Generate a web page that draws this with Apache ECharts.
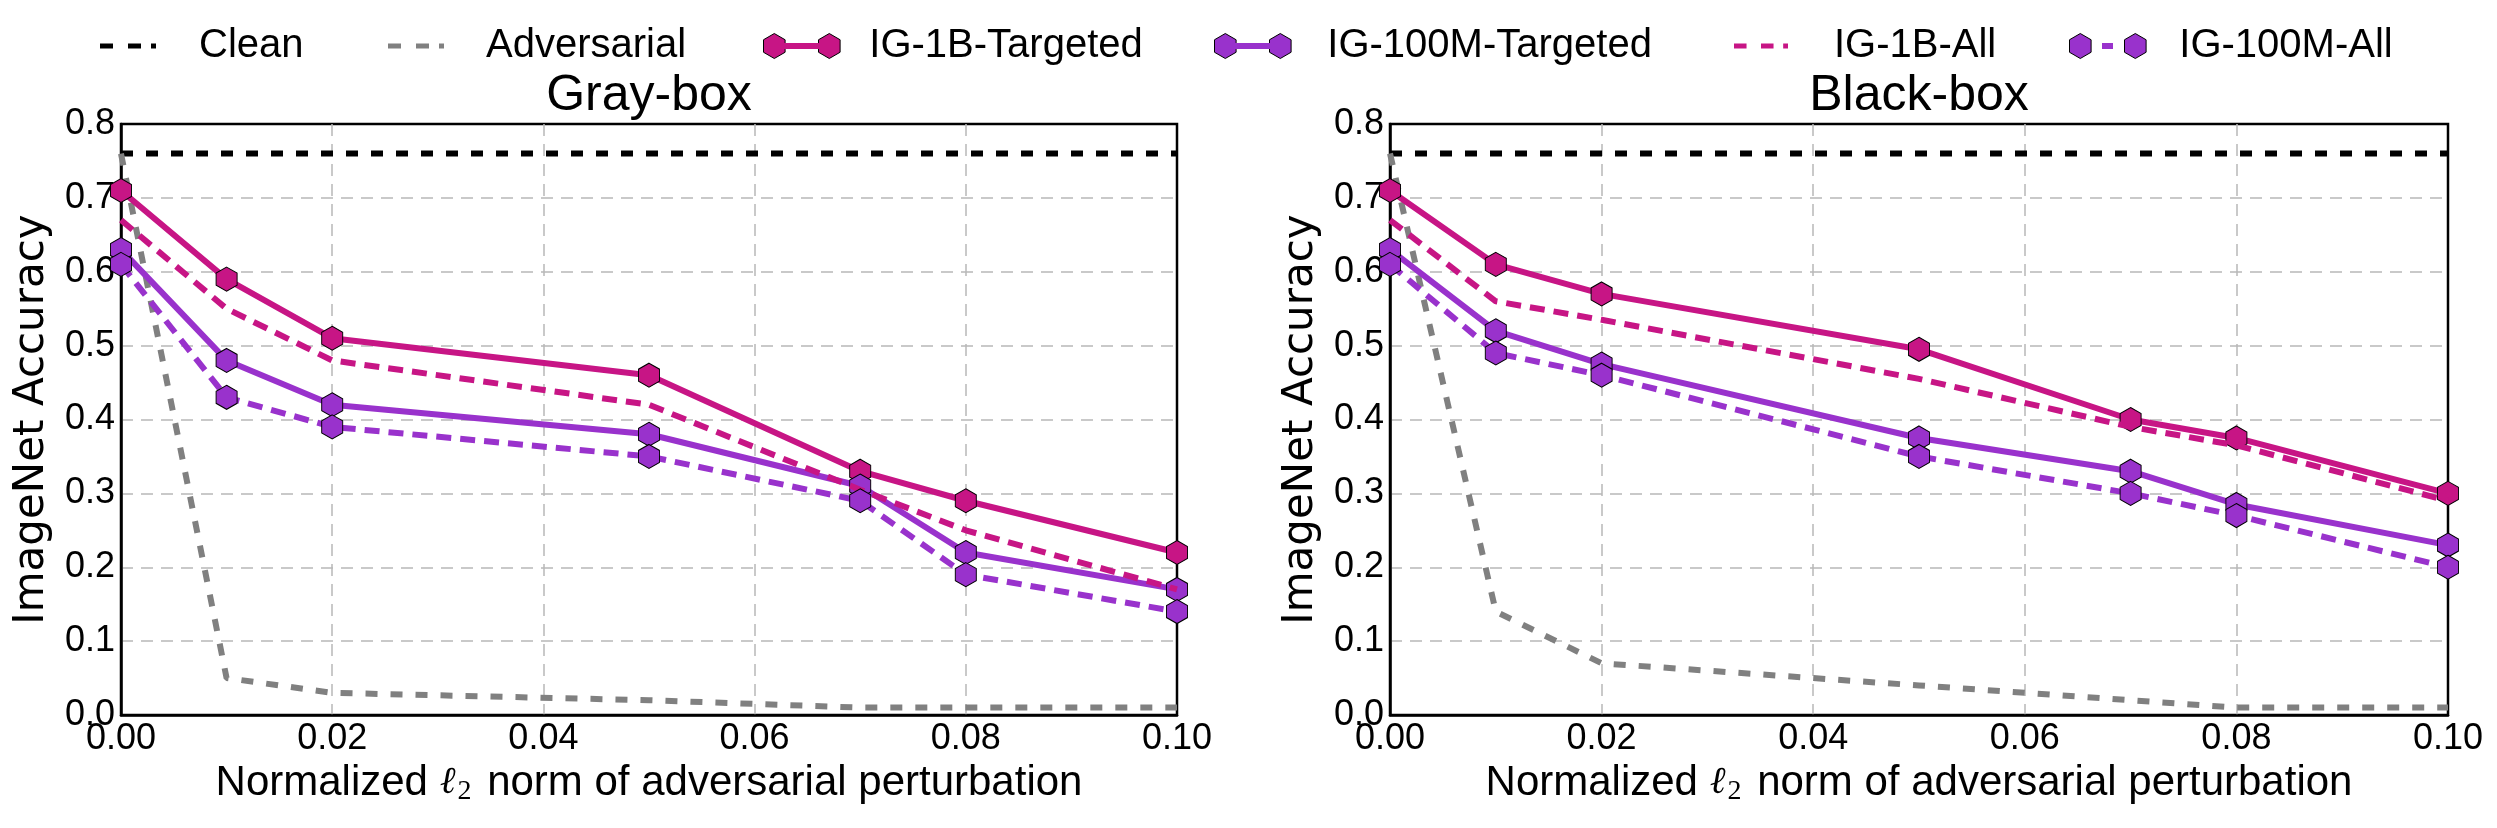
<!DOCTYPE html>
<html>
<head>
<meta charset="utf-8">
<script src="https://cdn.jsdelivr.net/npm/echarts@6/dist/echarts.min.js"></script>
<style>
html,body{margin:0;padding:0;background:#fff;}
#chart{width:2497px;height:828px;}
</style>
</head>
<body>
<div id="chart"></div>
<script>
// ---- data ----
const xValues = [0.00, 0.01, 0.02, 0.05, 0.07, 0.08, 0.10];
const panelTitles = ['Gray-box', 'Black-box'];
const seriesNames = ['Clean', 'Adversarial', 'IG-1B-Targeted', 'IG-100M-Targeted', 'IG-1B-All', 'IG-100M-All'];

// Gray-box
const grayClean      = [0.76, 0.76, 0.76, 0.76, 0.76, 0.76, 0.76];
const grayAdv        = [0.76, 0.05, 0.03, 0.02, 0.01, 0.01, 0.01];
const gray1BTarget   = [0.71, 0.59, 0.51, 0.46, 0.33, 0.29, 0.22];
const gray100MTarget = [0.63, 0.48, 0.42, 0.38, 0.31, 0.22, 0.17];
const gray1BAll      = [0.67, 0.55, 0.48, 0.42, 0.305, 0.25, 0.17];
const gray100MAll    = [0.61, 0.43, 0.39, 0.35, 0.29, 0.19, 0.14];

// Black-box
const blackClean      = [0.76, 0.76, 0.76, 0.76, 0.76, 0.76, 0.76];
const blackAdv        = [0.76, 0.14, 0.07, 0.04, 0.02, 0.01, 0.01];
const black1BTarget   = [0.71, 0.61, 0.57, 0.495, 0.40, 0.375, 0.30];
const black100MTarget = [0.63, 0.52, 0.475, 0.375, 0.33, 0.285, 0.23];
const black1BAll      = [0.67, 0.56, 0.535, 0.455, 0.39, 0.365, 0.29];
const black100MAll    = [0.61, 0.49, 0.46, 0.35, 0.30, 0.27, 0.20];

const xTicks = { min: 0, max: 0.1, interval: 0.02 };
const yTicks = { min: 0, max: 0.8, interval: 0.1 };

// ---- styles ----
const MAGENTA = '#C71585';
const PURPLE = '#9932CC';
const HEX = 'path://M0,-1L0.866,-0.5L0.866,0.5L0,1L-0.866,0.5L-0.866,-0.5Z';
const FONT = 'Liberation Sans';

function pts(ys) { return xValues.map((x, i) => [x, ys[i]]); }

const styleDefs = [
  { color: '#000000', width: 6, type: [12, 13], symbol: 'none' },
  { color: '#808080', width: 6, type: [12, 13], symbol: 'none' },
  { color: MAGENTA, width: 6, type: 'solid', symbol: HEX },
  { color: PURPLE, width: 6, type: 'solid', symbol: HEX },
  { color: MAGENTA, width: 6, type: [15, 9], symbol: 'none' },
  { color: PURPLE, width: 6, type: [15, 9], symbol: HEX }
];

const panels = [
  [grayClean, grayAdv, gray1BTarget, gray100MTarget, gray1BAll, gray100MAll],
  [blackClean, blackAdv, black1BTarget, black100MTarget, black1BAll, black100MAll]
];

const series = [];
panels.forEach((p, pi) => {
  p.forEach((ys, si) => {
    const st = styleDefs[si];
    series.push({
      name: seriesNames[si],
      type: 'line',
      xAxisIndex: pi, yAxisIndex: pi,
      data: pts(ys),
      symbol: st.symbol,
      symbolSize: [21, 24],
      showSymbol: st.symbol !== 'none',
      z: 2 + si,
      animation: false,
      lineStyle: { color: st.color, width: st.width, type: st.type },
      itemStyle: { color: st.color, borderColor: '#000', borderWidth: st.symbol !== 'none' ? 1 : 0 },
      emphasis: { disabled: true }
    });
  });
});

const grids = [
  { left: 121, top: 124, width: 1056, height: 591 },
  { left: 1390, top: 124, width: 1058, height: 591 }
];

const splitStyle = { show: true, showMinLine: false, showMaxLine: false,
  lineStyle: { color: '#b8b8b8', width: 1.5, type: [12, 8] } };

const xAxes = grids.map((g, i) => ({
  type: 'value', gridIndex: i, min: xTicks.min, max: xTicks.max, interval: xTicks.interval,
  axisLine: { show: true, lineStyle: { color: '#000', width: 2.5 } },
  axisTick: { show: false },
  splitLine: splitStyle,
  axisLabel: { fontFamily: FONT, fontSize: 36, color: '#000', margin: 6,
    formatter: v => v.toFixed(2) },
  name: '{a|Normalized }{l|ℓ}{s|2}{a| norm of adversarial perturbation}',
  nameLocation: 'middle', nameGap: 45,
  nameTextStyle: {
    fontFamily: FONT, fontSize: 42, color: '#000',
    rich: {
      a: { fontFamily: FONT, fontSize: 42, color: '#000', lineHeight: 46 },
      l: { fontFamily: 'DejaVu Serif', fontStyle: 'italic', fontSize: 38, color: '#000', lineHeight: 46, padding: [0, 2, 0, 0] },
      s: { fontFamily: 'Liberation Serif', fontSize: 28, color: '#000', lineHeight: 8, verticalAlign: 'bottom', padding: [0, 4, 0, 0] }
    }
  }
}));

const yAxes = grids.map((g, i) => ({
  type: 'value', gridIndex: i, min: yTicks.min, max: yTicks.max, interval: yTicks.interval,
  axisLine: { show: true, lineStyle: { color: '#000', width: 2.5 } },
  axisTick: { show: false },
  splitLine: splitStyle,
  axisLabel: { fontFamily: FONT, fontSize: 36, color: '#000', margin: 6,
    formatter: v => v.toFixed(1) },
  name: 'ImageNet Accuracy',
  nameLocation: 'middle', nameGap: 68, nameRotate: 90,
  nameTextStyle: { fontFamily: 'DejaVu Sans', fontSize: 42, color: '#000' }
}));

// legend icons
const DASH_ICON = 'path://M0,0H13V5H0Z M28,0H41V5H28Z M51,0H56V5H51Z';
const HEX2_ICON = 'path://M11,0L21.8,6.25L21.8,18.75L11,25L0.2,18.75L0.2,6.25Z M66,0L76.8,6.25L76.8,18.75L66,25L55.2,18.75L55.2,6.25Z';
const BAR_ICON = 'path://M0,0L0.01,0L0,0.01Z M77,25L76.99,25L77,24.99Z M21,9.5H56V15.5H21Z';
const SMALL_ICON = 'path://M0,0L0.01,0L0,0.01Z M77,25L76.99,25L77,24.99Z M33,9.5H44V15.5H33Z';

const legendDefs = [
  { name: 'Clean', left: 100, w: 56, h: 5, icon: DASH_ICON, gap: 43, hex: false },
  { name: 'Adversarial', left: 388, w: 56, h: 5, icon: DASH_ICON, gap: 42, hex: false },
  { name: 'IG-1B-Targeted', left: 763, w: 77, h: 25, icon: HEX2_ICON, bar: BAR_ICON, gap: 29, hex: true },
  { name: 'IG-100M-Targeted', left: 1214, w: 77, h: 25, icon: HEX2_ICON, bar: BAR_ICON, gap: 36, hex: true },
  { name: 'IG-1B-All', left: 1734, w: 54, h: 5, icon: DASH_ICON, gap: 46, hex: false },
  { name: 'IG-100M-All', left: 2069, w: 77, h: 25, icon: HEX2_ICON, bar: SMALL_ICON, gap: 33, hex: true }
];

const legends = [];
legendDefs.forEach(d => {
  const base = {
    data: [d.name], left: d.left, top: 26, padding: 0, orient: 'horizontal',
    itemWidth: d.w, itemHeight: d.h, selectedMode: false,
    textStyle: { fontFamily: FONT, fontSize: 40, color: '#000', padding: [0, 0, 0, d.gap - 5] }
  };
  if (d.hex) {
    legends.push(Object.assign({}, base, { icon: d.icon, itemStyle: { borderColor: '#000', borderWidth: 1 } }));
    legends.push(Object.assign({}, base, { icon: d.bar, itemStyle: { borderWidth: 0 },
      textStyle: Object.assign({}, base.textStyle, { color: 'rgba(0,0,0,0)' }) }));
  } else {
    legends.push(Object.assign({}, base, { icon: d.icon, itemStyle: { borderWidth: 0 } }));
  }
});

const titles = panelTitles.map((t, i) => ({
  text: t, left: grids[i].left + grids[i].width / 2, textAlign: 'center', top: 71, padding: 0,
  textStyle: { fontFamily: FONT, fontSize: 50, fontWeight: 'normal', color: '#000' }
}));

const chart = echarts.init(document.getElementById('chart'), null, { renderer: 'canvas' });
chart.setOption({
  backgroundColor: '#fff',
  animation: false,
  title: titles,
  legend: legends,
  grid: grids.map(g => Object.assign({ show: true, borderColor: '#000', borderWidth: 2.5, backgroundColor: 'transparent' }, g)),
  xAxis: xAxes,
  yAxis: yAxes,
  series: series
});
</script>
</body>
</html>
